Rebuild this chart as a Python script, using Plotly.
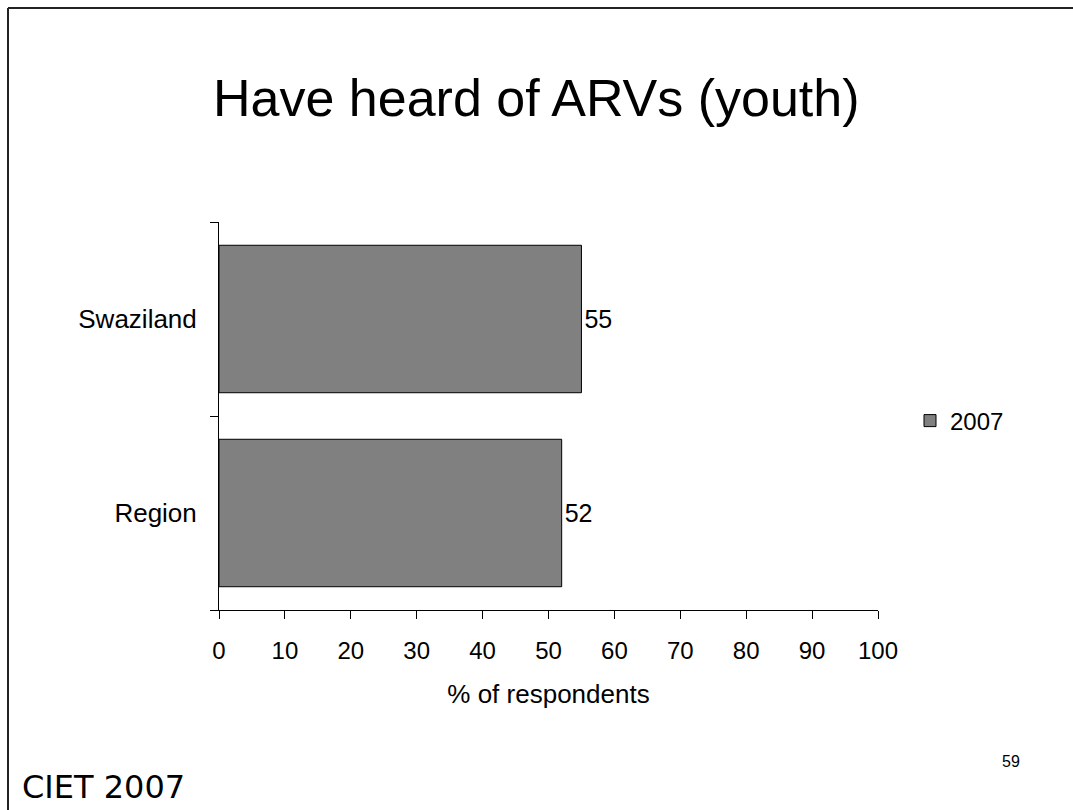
import plotly.graph_objects as go

# Chart data
categories = ["Region", "Swaziland"]
values_2007 = [52, 55]
series_name = "2007"
x_ticks = [0, 10, 20, 30, 40, 50, 60, 70, 80, 90, 100]

title_text = "Have heard of ARVs (youth)"
x_title = "% of respondents"
footer_text = "CIET 2007"
slide_number = "59"

# Page and plot-area geometry (pixels)
W, H = 1073, 810
L, R, T, B = 219, 878, 222, 610

FONT = "Arial, Liberation Sans, sans-serif"


def px_x(x):
    return (x - L) / (R - L)


def px_y(y):
    return (B - y) / (B - T)


fig = go.Figure()
fig.add_trace(go.Bar(
    y=categories,
    x=values_2007,
    orientation="h",
    name=series_name,
    marker=dict(color="#808080", line=dict(color="#000000", width=1)),
    text=[str(v) for v in values_2007],
    textposition="outside",
    textfont=dict(family=FONT, size=25, color="#000000"),
    cliponaxis=False,
))

fig.update_layout(
    width=W,
    height=H,
    margin=dict(l=L, r=W - R, t=T, b=H - B, pad=0),
    paper_bgcolor="#ffffff",
    plot_bgcolor="#ffffff",
    font=dict(family=FONT, color="#000000"),
    bargap=0.24,
    showlegend=True,
    legend=dict(
        x=px_x(910), y=px_y(421), xanchor="left", yanchor="middle",
        font=dict(family=FONT, size=24, color="#000000"),
        bgcolor="rgba(0,0,0,0)",
    ),
    xaxis=dict(
        range=[0, 100],
        tickvals=x_ticks,
        ticks="outside",
        ticklen=8,
        tickcolor="#000000",
        tickwidth=1,
        showline=True,
        linecolor="#000000",
        linewidth=1,
        showgrid=False,
        zeroline=False,
        tickfont=dict(family=FONT, size=24, color="#000000"),
        ticklabelstandoff=11,
        title=dict(text=x_title, font=dict(family=FONT, size=26, color="#000000"), standoff=22),
        fixedrange=True,
    ),
    yaxis=dict(
        type="category",
        categoryorder="array",
        categoryarray=categories,
        range=[-0.5, 1.5],
        tickson="boundaries",
        ticks="outside",
        ticklen=8,
        tickcolor="#000000",
        tickwidth=1,
        showline=True,
        linecolor="#000000",
        linewidth=1,
        showgrid=False,
        zeroline=False,
        tickfont=dict(family=FONT, size=26, color="#000000"),
        ticklabelstandoff=16,
        fixedrange=True,
    ),
)

annotations = [
    dict(text=title_text, x=px_x(W / 2), y=px_y(98), xref="paper", yref="paper",
         xanchor="center", yanchor="middle", showarrow=False,
         font=dict(family=FONT, size=52, color="#000000")),
    dict(text=footer_text, x=px_x(20), y=px_y(787), xref="paper", yref="paper",
         xanchor="left", yanchor="middle", showarrow=False,
         font=dict(family="DejaVu Sans, sans-serif", size=32, color="#000000")),
    dict(text=slide_number, x=px_x(1022), y=px_y(761), xref="paper", yref="paper",
         xanchor="right", yanchor="middle", showarrow=False,
         font=dict(family=FONT, size=16, color="#000000")),
]
fig.update_layout(annotations=annotations)

# Slide frame: top and left edges
fig.add_shape(type="line", xref="paper", yref="paper",
              x0=px_x(8), x1=px_x(W), y0=px_y(8), y1=px_y(8),
              line=dict(color="#222222", width=2), layer="above")
fig.add_shape(type="line", xref="paper", yref="paper",
              x0=px_x(8), x1=px_x(8), y0=px_y(8), y1=px_y(H),
              line=dict(color="#222222", width=2), layer="above")

fig.write_html("out.html", config={"displayModeBar": False})
